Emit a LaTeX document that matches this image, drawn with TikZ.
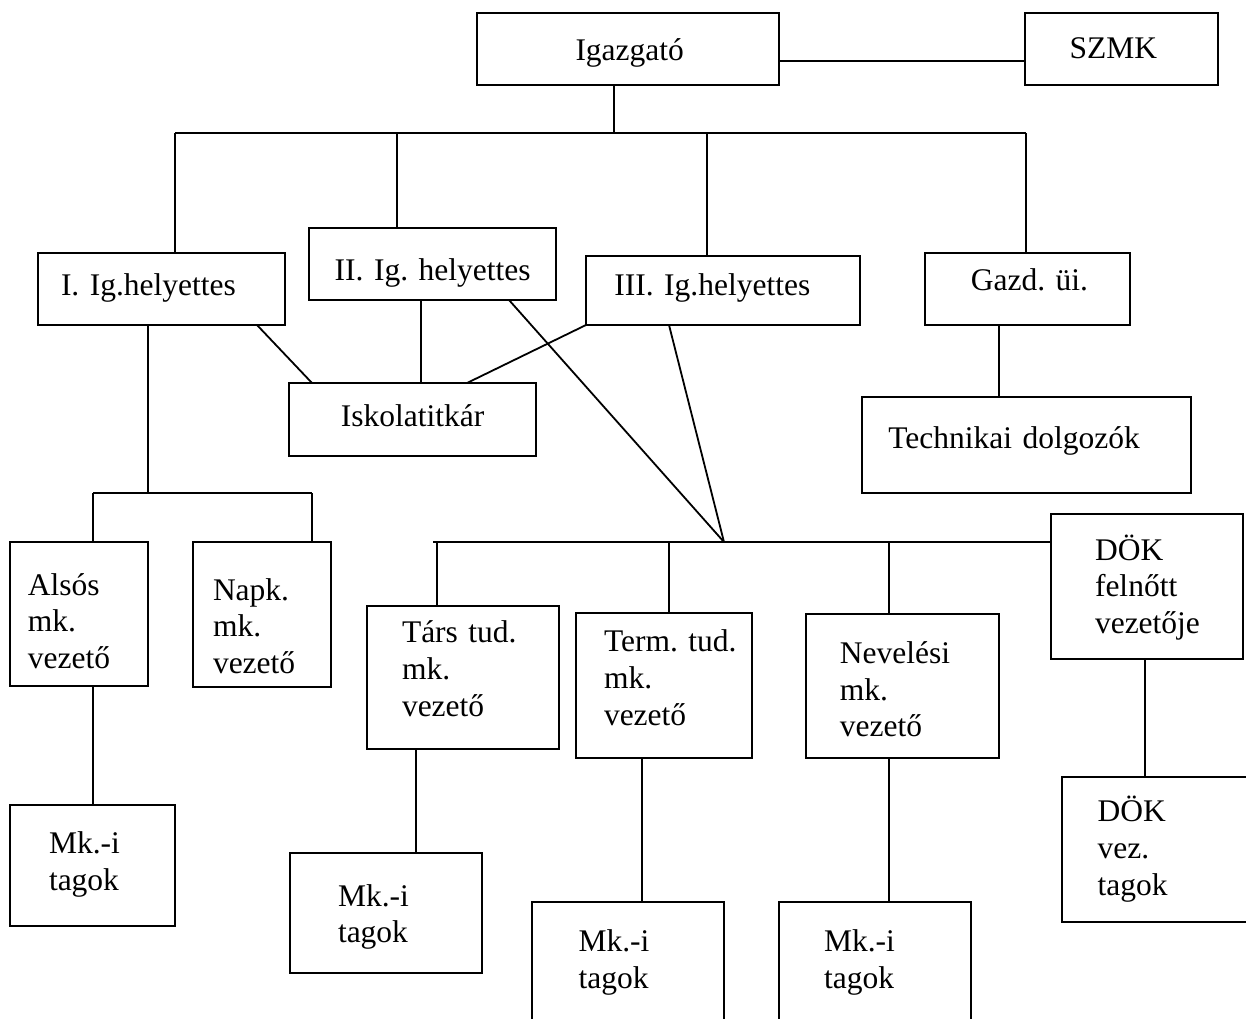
\documentclass[tikz,border=0pt]{standalone}
\usepackage{fontspec}
\setmainfont{Liberation Serif}
\newcommand{\orgbox}[5]{\node[box, minimum width={#4-#2}, minimum height={#5-#3}] (#1) at (#2,#3) {};}
\newcommand{\orgtext}[4]{\node[lbl] (#1) at (#2,#3) {#4};}
\begin{document}
\frenchspacing
\begin{tikzpicture}[x=1pt,y=-1pt,
  box/.style={draw, line width=1.8pt, inner sep=0pt, outer sep=0pt, anchor=north west},
  lbl/.style={anchor=base west, inner sep=0pt, outer sep=0pt, align=left, text width=300pt, font=\fontsize{31.5}{36.8}\selectfont\frenchspacing},
  conn/.style={line width=1.8pt}]
\useasboundingbox (0,0) rectangle (1246,1018);
\clip (0,0) rectangle (1246,1018);
\fill[white] (0,0) rectangle (1246,1018);

% boxes
\orgbox{igaz}{477}{13}{779}{85}
\orgbox{szmk}{1025}{13}{1218}{85}
\orgbox{ig1}{38}{253}{285}{325}
\orgbox{ig2}{309}{228}{556}{300}
\orgbox{ig3}{586}{256}{860}{325}
\orgbox{gazd}{925}{253}{1130}{325}
\orgbox{isk}{289}{383}{536}{456}
\orgbox{tech}{862}{397}{1191}{493}
\orgbox{als}{10}{542}{148}{686}
\orgbox{napk}{193}{542}{331}{687}
\orgbox{mk1}{10}{805}{175}{926}
\orgbox{tars}{367}{606}{559}{749}
\orgbox{mk2}{290}{853}{482}{973}
\orgbox{term}{576}{613}{752}{758}
\orgbox{mk3}{532}{902}{724}{1035}
\orgbox{nev}{806}{614}{999}{758}
\orgbox{mk4}{779}{902}{971}{1035}
\orgbox{dok}{1051}{514}{1243}{659}
\orgbox{dokv}{1062}{777}{1260}{922}

% helper coordinates
\coordinate (bt) at (614,133);
\coordinate (busL) at (175,133);
\coordinate (busR) at (1026,133);
\coordinate (b2) at (397,133);
\coordinate (b3) at (707,133);
\coordinate (hy) at (0,61);
\coordinate (hub) at (724,542);
\coordinate (mbL) at (433,542);
\coordinate (m1) at (437,542);
\coordinate (m2) at (669,542);
\coordinate (m3) at (889,542);
\coordinate (lbC) at (148,493);
\coordinate (lbL) at (93,493);
\coordinate (lbR) at (312,493);
\coordinate (xt) at (416,0);
\coordinate (xm3) at (642,0);
\coordinate (xd) at (1145,0);
\coordinate (xg) at (999,0);
\coordinate (xi2) at (421,0);

% connectors
\draw[conn] (igaz.south -| bt) -- (bt);
\draw[conn] (busL) -- (busR);
\draw[conn] (busL) -- (ig1.north -| busL);
\draw[conn] (b2) -- (ig2.north -| b2);
\draw[conn] (b3) -- (ig3.north -| b3);
\draw[conn] (busR) -- (gazd.north -| busR);
\draw[conn] (igaz.east |- hy) -- (szmk.west |- hy);
\draw[conn] ([xshift=219pt]ig1.south west) -- ([xshift=23pt]isk.north west);
\draw[conn] (ig2.south -| xi2) -- (isk.north -| xi2);
\draw[conn] (ig3.south west) -- ([xshift=178pt]isk.north west);
\draw[conn] ([xshift=200pt]ig2.south west) -- (hub);
\draw[conn] ([xshift=83pt]ig3.south west) -- (hub);
\draw[conn] (mbL) -- (dok.west |- hub);
\draw[conn] (m1) -- (tars.north -| m1);
\draw[conn] (m2) -- (term.north -| m2);
\draw[conn] (m3) -- (nev.north -| m3);
\draw[conn] (ig1.south -| lbC) -- (lbC);
\draw[conn] (lbL) -- (lbR);
\draw[conn] (lbL) -- (als.north -| lbL);
\draw[conn] (lbR) -- (napk.north -| lbR);
\draw[conn] (als.south -| lbL) -- (mk1.north -| lbL);
\draw[conn] (tars.south -| xt) -- (mk2.north -| xt);
\draw[conn] (term.south -| xm3) -- (mk3.north -| xm3);
\draw[conn] (nev.south -| m3) -- (mk4.north -| m3);
\draw[conn] (dok.south -| xd) -- (dokv.north -| xd);
\draw[conn] (gazd.south -| xg) -- (tech.north -| xg);

% texts
\orgtext{tIgaz}{575.5}{60}{Igazgató}
\orgtext{tSzmk}{1069.7}{58.3}{SZMK}
\orgtext{tIg1}{61}{295}{I. Ig.helyettes}
\orgtext{tIg2}{334.7}{280.7}{II. Ig. helyettes}
\orgtext{tIg3}{614.4}{295}{III. Ig.helyettes}
\orgtext{tGazd}{970.8}{290}{Gazd. üi.}
\orgtext{tIsk}{340.8}{426.7}{Iskolatitkár}
\orgtext{tTech}{888.4}{448.3}{Technikai dolgozók}
\orgtext{tAls}{27.8}{595}{Alsós\\mk.\\vezető}
\orgtext{tNapk}{213}{600}{Napk.\\mk.\\vezető}
\orgtext{tTars}{402}{642.7}{Társ tud.\\mk.\\vezető}
\orgtext{tTerm}{604}{651.7}{Term. tud.\\mk.\\vezető}
\orgtext{tNev}{839.8}{663.3}{Nevelési\\mk.\\vezető}
\orgtext{tDok}{1095}{560}{DÖK\\felnőtt\\vezetője}
\orgtext{tMk1}{49}{853.3}{Mk.-i\\tagok}
\orgtext{tMk2}{338}{906}{Mk.-i\\tagok}
\orgtext{tMk3}{578.5}{951.7}{Mk.-i\\tagok}
\orgtext{tMk4}{824}{951.7}{Mk.-i\\tagok}
\orgtext{tDokv}{1097.7}{821.7}{DÖK\\vez.\\tagok}
\end{tikzpicture}
\end{document}
